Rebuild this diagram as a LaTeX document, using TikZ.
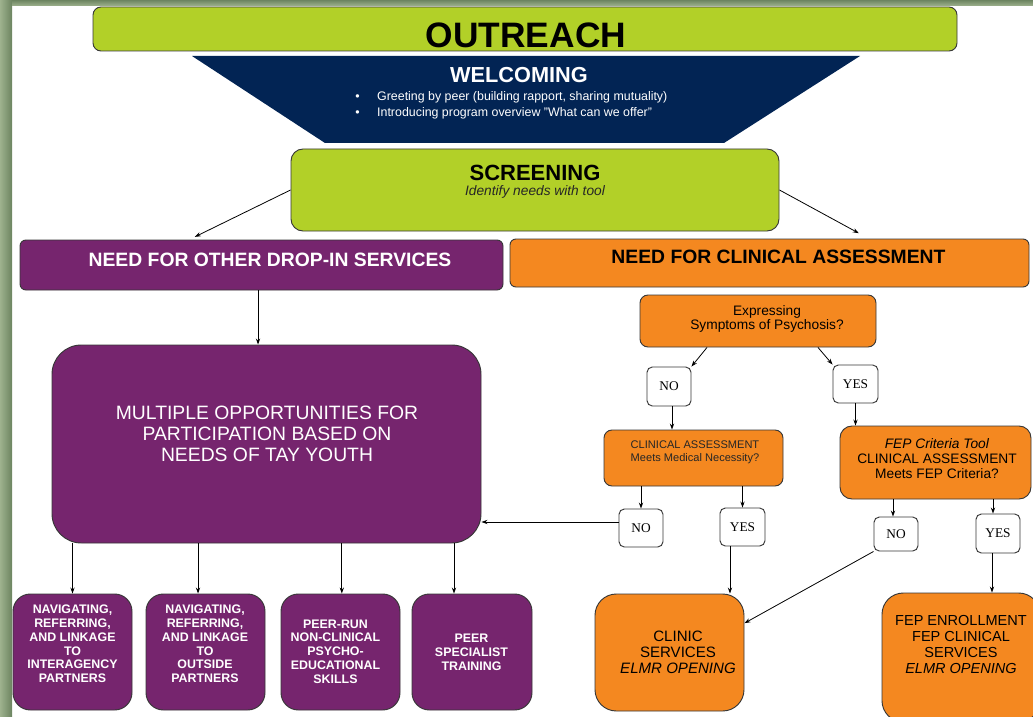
\documentclass[tikz,border=0pt]{standalone}
\usepackage{fontspec}
\setmainfont{Liberation Sans}
\newfontfamily\answerfont{Liberation Serif}
\usetikzlibrary{arrows.meta}
\definecolor{limegreen}{RGB}{178,208,40}
\definecolor{welcomenavy}{RGB}{2,36,84}
\definecolor{tayplum}{RGB}{118,37,110}
\definecolor{clinorange}{RGB}{244,136,32}
\definecolor{framedark}{RGB}{108,132,96}
\definecolor{framelight}{RGB}{158,178,142}
\definecolor{edgegray}{RGB}{55,55,55}
\tikzset{
  sz/.style 2 args={minimum width=#1*0.75pt,minimum height=#2*0.75pt},
  panel/.style={draw=edgegray,line width=0.7pt,inner sep=0pt},
  limepanel/.style={panel,fill=limegreen},
  plumpanel/.style={panel,fill=tayplum},
  orangepanel/.style={panel,fill=clinorange},
  answer/.style={panel,fill=white,rounded corners=4pt,font=\answerfont\fontsize{10}{12}\selectfont},
  boxtext/.style={align=center,inner sep=0pt},
  arr/.style={-{Stealth[length=4.5pt,width=3.2pt]},line width=0.6pt},
}
\begin{document}
\begin{tikzpicture}[x=0.75pt,y=-0.75pt]
\useasboundingbox (0,0) rectangle (1033,717);
\clip (0,0) rectangle (1033,717);
% frame
\shade[left color=framelight,right color=framedark] (0,0) rectangle (12,717);
\shade[top color=framedark,bottom color=framelight] (12,0) rectangle (1033,6);

% outreach and welcoming
\node[limepanel,sz={864}{44},rounded corners=6pt] (outreach) at (525,29) {};
\node[boxtext,font=\bfseries\fontsize{26.5}{30}\selectfont] (outreachlbl) at (526,35) {OUTREACH};
\fill[welcomenavy] (192,56) -- (860,56) -- (724,143) -- (325,143) -- cycle;
\node[boxtext,text=white,font=\bfseries\fontsize{16.3}{18}\selectfont] (welcome) at (519,75) {WELCOMING};
\node[boxtext,anchor=west,text=white,font=\fontsize{9.3}{12}\selectfont] (bullets) at (355,105)
  {\begin{tabular}{@{}l@{\hspace{13.2pt}}l@{}}•&Greeting by peer (building rapport, sharing mutuality)\\
   •&Introducing program overview ”What can we offer”\end{tabular}};

% screening
\node[limepanel,sz={488}{82},rounded corners=9pt] (screen) at (535,190) {};
\node[boxtext,font=\bfseries\fontsize{16.5}{18}\selectfont] (scrtitle) at (535,173) {SCREENING};
\node[boxtext,font=\itshape\fontsize{10.3}{12}\selectfont,text=black!85] (scrsub) at (535,192) {Identify needs with tool};

% two needs
\node[plumpanel,sz={483}{50},rounded corners=4.5pt] (drop) at (261.5,265) {};
\node[boxtext,text=white,font=\bfseries\fontsize{14.5}{16}\selectfont] (droplbl) at (270,260) {NEED FOR OTHER DROP-IN SERVICES};
\node[orangepanel,sz={519}{48},rounded corners=4.5pt] (clin) at (769.5,263) {};
\node[boxtext,font=\bfseries\fontsize{14.5}{16}\selectfont] (clinlbl) at (778.5,257) {NEED FOR CLINICAL ASSESSMENT};
\draw[arr] (screen.west) -- ([xshift=-50pt,yshift=2pt]drop.north);
\draw[arr] (screen.east) -- ([xshift=67pt,yshift=4pt]clin.north);

% drop-in side
\node[plumpanel,sz={429}{198},rounded corners=22pt] (big) at (266.5,444) {};
\node[boxtext,text=white,font=\fontsize{14.5}{15.75}\selectfont] (biglbl) at (267,434)
  {MULTIPLE OPPORTUNITIES FOR\\PARTICIPATION BASED ON\\NEEDS OF TAY YOUTH};
\draw[arr] ([xshift=-2.6pt]drop.south) -- ([xshift=-2.6pt]drop.south |- big.north);

\node[plumpanel,sz={119}{116},rounded corners=13pt] (navinter) at (72.5,652) {};
\node[plumpanel,sz={119}{116},rounded corners=13pt] (navout) at (205.5,652) {};
\node[plumpanel,sz={119}{116},rounded corners=13pt] (peerrun) at (340.5,652) {};
\node[plumpanel,sz={120}{116},rounded corners=13pt] (peertrain) at (472,652) {};
\node[boxtext,text=white,font=\bfseries\fontsize{9.3}{10.35}\selectfont] (navinterlbl) at (72.5,644)
  {NAVIGATING,\\REFERRING,\\AND LINKAGE\\TO\\INTERAGENCY\\PARTNERS};
\node[boxtext,text=white,font=\bfseries\fontsize{9.3}{10.35}\selectfont] (navoutlbl) at (205,644)
  {NAVIGATING,\\REFERRING,\\AND LINKAGE\\TO\\OUTSIDE\\PARTNERS};
\node[boxtext,text=white,font=\bfseries\fontsize{9.3}{10.35}\selectfont] (peerrunlbl) at (335.5,651.5)
  {PEER-RUN\\NON-CLINICAL\\PSYCHO-\\EDUCATIONAL\\SKILLS};
\node[boxtext,text=white,font=\bfseries\fontsize{9.3}{10.35}\selectfont] (peertrainlbl) at (471.5,652.5)
  {PEER\\SPECIALIST\\TRAINING};
\draw[arr] (navinter.north |- big.south) -- (navinter.north);
\draw[arr] ([xshift=-5.6pt]navout.north |- big.south) -- ([xshift=-5.6pt]navout.north);
\draw[arr] ([xshift=1pt]peerrun.north |- big.south) -- ([xshift=1pt]peerrun.north);
\draw[arr] ([xshift=-13.5pt]peertrain.north |- big.south) -- ([xshift=-13.5pt]peertrain.north);

% clinical side
\node[orangepanel,sz={236}{52},rounded corners=6pt] (expr) at (758,321) {};
\node[boxtext,font=\fontsize{10.3}{11}\selectfont] (exprlbl) at (767,319) {Expressing\\Symptoms of Psychosis?};
\node[answer,sz={44}{39}] (no1) at (669,386.5) {NO};
\node[answer,sz={45}{38}] (yes1) at (855.5,384) {YES};
\draw[arr] ([xshift=-38.25pt]expr.south) -- (no1.north east);
\draw[arr] ([xshift=45pt]expr.south) -- (yes1.north west);

\node[orangepanel,sz={179}{56},rounded corners=6pt] (ca) at (693.5,458) {};
\node[boxtext,font=\fontsize{8.3}{9.8}\selectfont,text=black!85] (calbl) at (695,452.5) {CLINICAL ASSESSMENT\\Meets Medical Necessity?};
\node[orangepanel,sz={191}{73},rounded corners=9pt] (fep) at (935.5,462.5) {};
\node[boxtext,font=\fontsize{10.3}{11.3}\selectfont] (feplbl) at (937,459) {\textit{FEP Criteria Tool}\\CLINICAL ASSESSMENT\\Meets FEP Criteria?};
\draw[arr] ([xshift=2.25pt]no1.south) -- ([xshift=2.25pt]no1.south |- ca.north);
\draw[arr] (yes1.south) -- (yes1.south |- fep.north);

\node[answer,sz={44}{38}] (no2) at (641,528) {NO};
\node[answer,sz={45}{38}] (yes2) at (742.5,527) {YES};
\node[answer,sz={44}{34}] (no3) at (896,534) {NO};
\node[answer,sz={44}{39}] (yes3) at (998,533.5) {YES};
\draw[arr] (no2.north |- ca.south) -- (no2.north);
\draw[arr] (yes2.north |- ca.south) -- (yes2.north);
\draw[arr] ([xshift=-2.25pt]no3.north |- fep.south) -- ([xshift=-2.25pt]no3.north);
\draw[arr] ([xshift=-3.75pt]yes3.north |- fep.south) -- ([xshift=-3.75pt]yes3.north);
\draw[arr] ([yshift=4.5pt]no2.west) -- ([yshift=4.5pt]no2.west -| big.east);

\node[orangepanel,sz={149}{117},rounded corners=16pt] (clinic) at (669.5,652.5) {};
\node[boxtext,font=\fontsize{11.3}{12}\selectfont] (cliniclbl) at (678,652.5) {CLINIC\\SERVICES\\\textit{ELMR OPENING}};
\node[orangepanel,sz={158}{129},rounded corners=16pt] (fepen) at (961,657.5) {};
\node[boxtext,font=\fontsize{10.9}{12}\selectfont] (fepenlbl) at (961,644) {FEP ENROLLMENT\\FEP CLINICAL\\SERVICES\\\textit{ELMR OPENING}};
\draw[arr] ([xshift=-9.4pt]yes2.south) -- ([xshift=-9.4pt]yes2.south |- clinic.north);
\draw[arr] (no3.south west) -- ([yshift=22pt]clinic.east);
\draw[arr] ([xshift=-4.5pt]yes3.south) -- ([xshift=-4.5pt]yes3.south |- fepen.north);
\end{tikzpicture}
\end{document}
